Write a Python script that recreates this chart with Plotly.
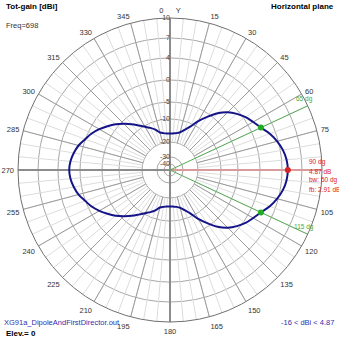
import numpy as np
import plotly.graph_objects as go

# ---- data ----
ring_db = [-40, -30, -20, -10, -5, 0, 4, 7, 10]          # radial ring labels (dBi)
ring_frac = [0.039, 0.086, 0.184, 0.336, 0.447, 0.592, 0.737, 0.868, 1.0]  # MMANA log-like scale

angles = [0, 5, 10, 15, 20, 25, 30, 35, 40, 45, 50, 55, 60, 65, 70, 75, 80, 85, 90,
          95, 100, 105, 110, 115, 120, 125, 130, 135, 140, 145, 150, 155, 160, 165, 170, 175, 180,
          185, 190, 195, 200, 205, 210, 215, 220, 225, 230, 235, 240, 245, 250, 255, 260, 265, 270,
          275, 280, 285, 290, 295, 300, 305, 310, 315, 320, 325, 330, 335, 340, 345, 350, 355, 360]
gain_dbi = [-16.3, -16.2, -15.9, -15.2, -13.6, -11.4, -8.4, -5.9, -3.6, -1.9, -0.6, 0.4, 1.1, 1.87, 2.95, 3.8, 4.4, 4.75, 4.87,
            4.75, 4.4, 3.8, 2.95, 1.87, 1.1, 0.4, -0.6, -1.9, -3.6, -5.9, -8.4, -11.4, -13.6, -15.2, -15.9, -16.2, -16.3,
            -16.2, -15.9, -15.3, -13.5, -12.0, -10.5, -9.0, -7.4, -5.8, -4.3, -3.1, -1.9, -0.8, 0.05, 0.85, 1.4, 1.8, 1.96,
            1.8, 1.4, 0.85, 0.05, -0.8, -1.9, -3.1, -4.3, -5.8, -7.4, -9.0, -10.5, -12.0, -13.5, -15.3, -15.9, -16.2, -16.3]

max_dir = 90
max_gain = 4.87
bw_dirs = [65, 115]
bw_gain = 1.87
fb = 2.91
freq = 698

ang_ticks = list(range(0, 360, 15))
ang_labels = ["0      Y" if a == 0 else ("" if a == max_dir else str(a)) for a in ang_ticks]


def to_r(db):
    return np.interp(db, ring_db, ring_frac, left=0.0)


fig = go.Figure()

# spokes (grid)
def spokes(step, r0):
    th, rr = [], []
    for a in range(0, 360, step):
        th += [a, a, None]
        rr += [r0, 1.0, None]
    return th, rr

th, rr = spokes(5, to_r(-20))
fig.add_trace(go.Scatterpolar(theta=th, r=rr, mode="lines",
                              line=dict(color="#dcdcdc", width=1), hoverinfo="skip"))
th, rr = spokes(15, to_r(-20))
fig.add_trace(go.Scatterpolar(theta=th, r=rr, mode="lines",
                              line=dict(color="#9a9a9a", width=1), hoverinfo="skip"))
# main axes
fig.add_trace(go.Scatterpolar(theta=[0, 180, None, 270, 90], r=[1, 1, None, 1, 0], mode="lines",
                              line=dict(color="#8c8c8c", width=2), hoverinfo="skip"))
# direction lines
fig.add_trace(go.Scatterpolar(theta=[max_dir, max_dir], r=[0, 1], mode="lines",
                              line=dict(color="#d89a9a", width=2), hoverinfo="skip"))
fig.add_trace(go.Scatterpolar(theta=[bw_dirs[0], bw_dirs[0], None, bw_dirs[1], bw_dirs[1]],
                              r=[0, 1, None, 0, 1], mode="lines",
                              line=dict(color="#55aa55", width=1), hoverinfo="skip"))

# pattern
fig.add_trace(go.Scatterpolar(theta=angles, r=to_r(np.array(gain_dbi)), mode="lines",
                              line=dict(color="#141488", width=2, shape="spline"), hoverinfo="skip"))
fig.add_trace(go.Scatterpolar(theta=bw_dirs, r=[to_r(bw_gain)] * 2, mode="markers",
                              marker=dict(color="#22aa22", size=6), hoverinfo="skip"))
fig.add_trace(go.Scatterpolar(theta=[max_dir], r=[to_r(max_gain)], mode="markers",
                              marker=dict(color="#dd2222", size=6), hoverinfo="skip"))

# radial labels
fig.add_trace(go.Scatterpolar(theta=[0] * len(ring_db), r=ring_frac, mode="text",
                              text=[str(d) for d in ring_db], textposition="middle left",
                              textfont=dict(size=7, color="#444", family="Liberation Sans"),
                              hoverinfo="skip"))

fig.update_layout(
    width=339, height=339,
    margin=dict(l=0, r=0, t=0, b=0),
    paper_bgcolor="white",
    showlegend=False,
    polar=dict(
        domain=dict(x=[0.0531, 0.9499], y=[0.0501, 0.9469]),
        bgcolor="white",
        radialaxis=dict(range=[0, 1], tickvals=ring_frac, showticklabels=False,
                        ticks="", showline=False, gridcolor="#a8a8a8", gridwidth=1),
        angularaxis=dict(rotation=90, direction="clockwise", tickvals=ang_ticks,
                         ticktext=ang_labels, showgrid=False, ticks="outside", ticklen=2,
                         tickcolor="rgba(0,0,0,0)",
                         linecolor="#707070", linewidth=1,
                         tickfont=dict(size=7.5, color="#333", family="Liberation Sans")),
    ),
)

def px(x, y):
    return x / 339, 1 - y / 339

ann = []
def add(text, x, y, xanchor="left", color="black", bold=False, size=8):
    xx, yy = px(x, y)
    ann.append(dict(text=("<b>%s</b>" % text) if bold else text, x=xx, y=yy, xref="paper", yref="paper",
                    xanchor=xanchor, yanchor="middle", showarrow=False,
                    font=dict(size=size, color=color, family="Liberation Sans")))

add("Tot-gain [dBi]", 4, 7, bold=True)
add("Freq=%d" % freq, 4, 26, color="#333", size=7.5)
add("Horizontal plane", 336, 7, xanchor="right", bold=True)
add("XG91a_DipoleAndFirstDirector.out", 2, 322, color="#3030b0", size=7.5)
add("Elev.= 0", 4, 333, bold=True)
add("-16 < dBi < %.2f" % max_gain, 336, 322, xanchor="right", color="#3030b0", size=7.5)
add("%d dg" % max_dir, 307, 162, color="#dd2222", size=6.5)
add("%.2f dB" % max_gain, 307, 171, color="#dd2222", size=6.5)
add("bw: %d dg" % (bw_dirs[1] - bw_dirs[0]), 307, 180, color="#dd2222", size=6.5)
add("fb: %.2f dB" % fb, 307, 189, color="#dd2222", size=6.5)
add("%d dg" % bw_dirs[0], 294, 99, color="#44aa44", size=6.5)
add("%d dg" % bw_dirs[1], 292, 227, color="#44aa44", size=6.5)
fig.update_layout(annotations=ann)

fig.write_html("out.html")
